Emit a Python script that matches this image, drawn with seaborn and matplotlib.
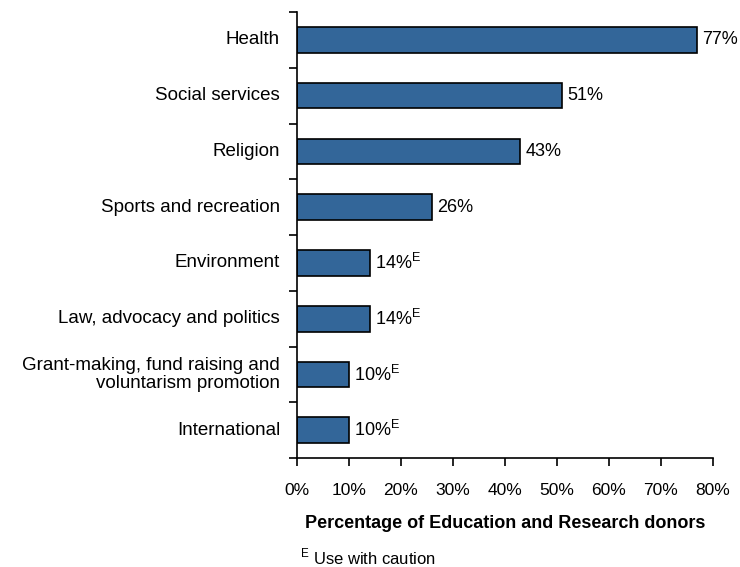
import matplotlib
matplotlib.use("Agg")
import matplotlib.pyplot as plt
import seaborn as sns
import pandas as pd

categories = [
    "Health",
    "Social services",
    "Religion",
    "Sports and recreation",
    "Environment",
    "Law, advocacy and politics",
    "Grant-making, fund raising and\nvoluntarism promotion",
    "International",
]
values = [77, 51, 43, 26, 14, 14, 10, 10]
caution = [False, False, False, False, True, True, True, True]
x_ticks = [0, 10, 20, 30, 40, 50, 60, 70, 80]

sns.set_style("white")
plt.rcParams["font.family"] = ["Liberation Sans", "DejaVu Sans"]
plt.rcParams["mathtext.fontset"] = "custom"
plt.rcParams["mathtext.rm"] = "Liberation Sans"
plt.rcParams["text.color"] = "black"
plt.rcParams["axes.labelcolor"] = "black"
plt.rcParams["xtick.color"] = "black"
plt.rcParams["ytick.color"] = "black"

df = pd.DataFrame({"category": categories, "value": values})

fig = plt.figure(figsize=(7.4, 5.67), dpi=100)
ax = fig.add_axes([0.401, 0.192, 0.9635 - 0.401, 0.9788 - 0.192])

sns.barplot(data=df, x="value", y="category", orient="h", color="#336699",
            saturation=1, width=0.46, edgecolor="black", linewidth=1.2, ax=ax)

ax.set_xlim(0, 80)
ax.set_ylim(len(categories) - 0.5, -0.5)
ax.set_xticks(x_ticks)
ax.set_xticklabels([f"{t}%" for t in x_ticks], fontsize=12.5)
ax.tick_params(axis="x", bottom=True, length=6, width=1.2, direction="out",
               pad=12)

# category ticks sit between bars; labels are placed at bar centres
ax.set_yticks([i - 0.5 for i in range(len(categories) + 1)])
ax.set_yticklabels([])
ax.tick_params(axis="y", left=True, length=6, width=1.2, direction="out")
for i, c in enumerate(categories):
    ax.text(-0.04, i, c, transform=ax.get_yaxis_transform(), ha="right",
            va="center", fontsize=13.5, multialignment="right",
            linespacing=1.15)

for s in ["top", "right"]:
    ax.spines[s].set_visible(False)
for s in ["left", "bottom"]:
    ax.spines[s].set_color("black")
    ax.spines[s].set_linewidth(1.2)

for i, (v, flag) in enumerate(zip(values, caution)):
    label = f"{v}%" + (r"$^{\mathrm{E}}$" if flag else "")
    ax.text(v + 1.0, i, label, ha="left", va="center", fontsize=13)

ax.set_xlabel("Percentage of Education and Research donors", fontsize=13,
              fontweight="bold", labelpad=12)
ax.set_ylabel("")

fig.text(300 / 740, 1 - 564 / 567, r"$^{\mathrm{E}}$ Use with caution",
         fontsize=12, ha="left", va="baseline")

fig.savefig("out.png", dpi=100)
